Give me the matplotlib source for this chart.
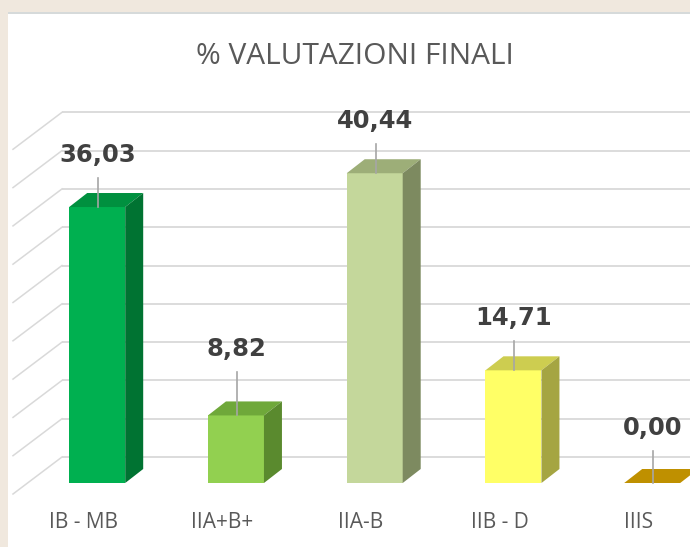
import matplotlib
matplotlib.use("Agg")
import matplotlib.pyplot as plt
from matplotlib.patches import Rectangle, Polygon

# ---- data ----
categories = ["IB - MB", "IIA+B+", "IIA-B", "IIB - D", "IIIS"]
values = [36.03, 8.82, 40.44, 14.71, 0.00]
value_labels = ["36,03", "8,82", "40,44", "14,71", "0,00"]
grid_values = [0, 5, 10, 15, 20, 25, 30, 35, 40, 45]
title = "% VALUTAZIONI FINALI"

# ---- styles ----
front_colors = ["#00B050", "#92D050", "#C4D79B", "#FFFF66", "#BF9000"]
top_colors = ["#00903F", "#6FA83A", "#9DAE78", "#CDCD50", "#BF9000"]
side_colors = ["#007332", "#5A8A2E", "#7D8A60", "#A5A542", "#9A7400"]
label_gap_px = [52, 66, 52, 52, 55]   # manual label placement above bar top (pixels)
text_family = ["Open Sans", "DejaVu Sans"]

W, H = 690, 547
PX_X = 138.75      # pixels per category
X0 = 97.2          # pixel x of first category center
PX_Y = 7.66        # pixels per value unit
Y0 = 483           # pixel y (from top) of value 0 at bar front

fig = plt.figure(figsize=(W / 100, H / 100), dpi=100)
fig.patch.set_facecolor("#F0E8DE")
fig.add_artist(Rectangle((8 / W, 0), 1, 1 - 12 / H, transform=fig.transFigure,
                         facecolor="white", edgecolor="none", zorder=0))
fig.add_artist(Rectangle((8 / W, 1 - 14 / H), 1, 2 / H, transform=fig.transFigure,
                         facecolor="#D6DADA", edgecolor="none", zorder=0))

ax = fig.add_axes([0, 0, 1, 1])
ax.set_axis_off()
ax.patch.set_alpha(0)
ax.set_xlim(-X0 / PX_X, (W - X0) / PX_X)
ax.set_ylim(-(H - Y0) / PX_Y, Y0 / PX_Y)

def dx(px):
    return px / PX_X

def dy(px):
    return px / PX_Y

# back wall + side wall gridlines
x_wall = dx(62 - X0)
x_side = dx(13 - X0)
x_right = dx(W + 20 - X0)
grid_color = "#D9D9D9"
for v in grid_values:
    yb = v + dy(26)
    ax.plot([x_wall, x_right], [yb, yb], color=grid_color, lw=1.3, zorder=1,
            solid_capstyle="butt")
    ax.plot([x_side, x_wall], [yb - dy(37), yb], color=grid_color, lw=1.1, zorder=1)

# bars (front faces)
bw = 56 / PX_X
xs = list(range(len(categories)))
ax.bar(xs, values, width=bw, color=front_colors, zorder=3, linewidth=0)

ddx, ddy = dx(18), dy(14)
for i, v in enumerate(values):
    l, r = i - bw / 2, i + bw / 2
    top = Polygon([(l, v), (r, v), (r + ddx, v + ddy), (l + ddx, v + ddy)],
                  closed=True, facecolor=top_colors[i], edgecolor="none", zorder=3)
    ax.add_patch(top)
    if v > 0:
        side = Polygon([(r, 0), (r + ddx, ddy), (r + ddx, v + ddy), (r, v)],
                       closed=True, facecolor=side_colors[i], edgecolor="none", zorder=3)
        ax.add_patch(side)

    # data label + leader line
    ly = v + dy(label_gap_px[i])
    ax.plot([i + dx(1), i + dx(1)], [v, ly - dy(23)], color="#A6A6A6", lw=1.2, zorder=4)
    ax.text(i, ly, value_labels[i], ha="center", va="center", fontsize=17.5,
            fontweight="bold", color="#404040", family="DejaVu Sans", zorder=5)

    # category label
    ax.text(i - dx(14), dy(-40), categories[i], ha="center", va="center",
            fontsize=15, color="#595959", family=text_family, zorder=5)

ax.text(dx(355 - X0), dy(Y0 - 56), title, ha="center", va="center",
        fontsize=21.5, color="#595959", family=text_family, zorder=5)

fig.savefig("out.png", dpi=100, facecolor=fig.get_facecolor())
